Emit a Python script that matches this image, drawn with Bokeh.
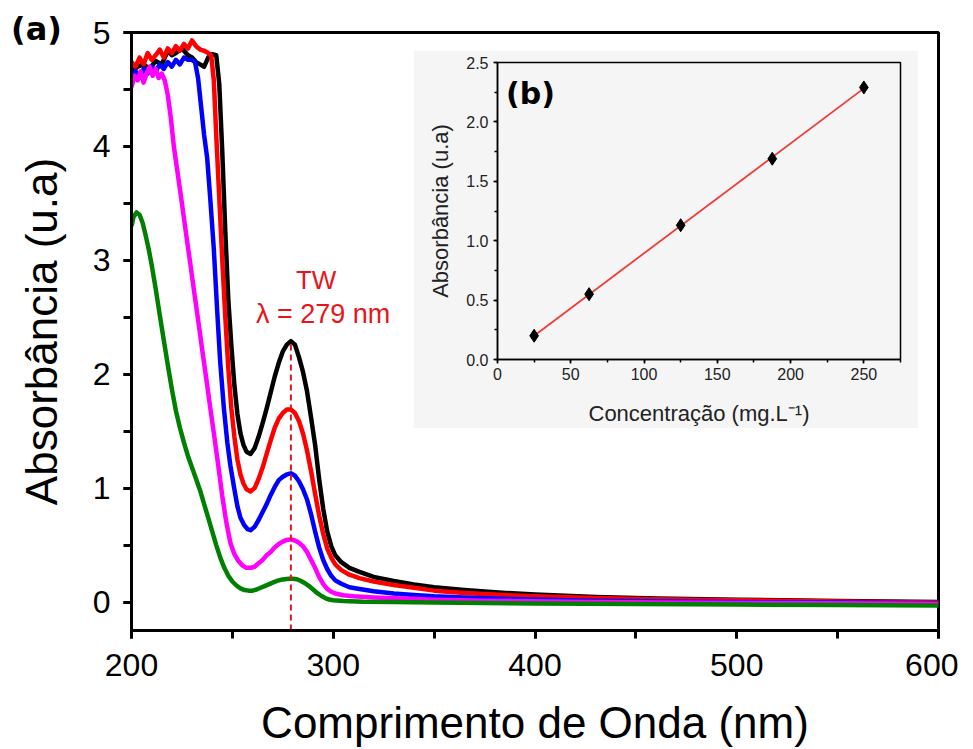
from bokeh.plotting import figure
from bokeh.models import GridBox, Label, SingleIntervalTicker, Range1d, Div, Spacer, PrintfTickFormatter
from bokeh.layouts import column, row
from bokeh.embed import file_html
from bokeh.resources import INLINE
import numpy as np

# ---------------- data ----------------
# UV-Vis spectra (wavelength nm, absorbance) for 5 concentrations
black_wl = [200, 203, 206, 209, 212, 215, 218, 220, 222, 225, 228, 230, 232, 234, 236, 238, 240, 242,
            243.5, 245, 246.5, 248, 249.5, 251, 252.5, 254, 255.5, 257, 259, 261, 263, 265, 267, 269,
            271, 273, 275, 277, 279, 281, 283, 285, 287, 289, 291, 293, 295, 297, 299, 301, 304, 308,
            313, 320, 330, 340, 350, 365, 380, 400, 430, 460, 500, 550, 600]
black_ab = [4.65, 4.70, 4.72, 4.68, 4.75, 4.72, 4.84, 4.80, 4.82, 4.86, 4.80, 4.78, 4.74, 4.72, 4.70,
            4.78, 4.81, 4.80, 4.55, 3.95, 3.25, 2.65, 2.25, 1.90, 1.65, 1.48, 1.38, 1.32, 1.30, 1.35,
            1.45, 1.57, 1.70, 1.84, 1.98, 2.10, 2.20, 2.26, 2.29, 2.26, 2.15, 2.02, 1.85, 1.62, 1.38,
            1.08, 0.82, 0.62, 0.49, 0.41, 0.35, 0.30, 0.265, 0.22, 0.185, 0.155, 0.13, 0.105, 0.085,
            0.065, 0.045, 0.03, 0.02, 0.01, 0.0]

red_wl = [200, 202, 204, 206, 208, 210, 212, 214, 216, 218, 220, 222, 224, 226, 228, 230, 232, 234, 236,
          238, 239.5, 240.8, 242, 243.5, 245, 246.5, 248, 249.5, 251, 252.5, 254, 255.5, 257, 259, 261,
          263, 265, 267, 269, 271, 273, 275, 277, 279, 281, 283, 285, 287, 289, 291, 293, 295, 297, 299,
          301, 304, 308, 313, 320, 330, 340, 350, 365, 380, 400, 430, 460, 500, 550, 600]
red_ab = [4.74, 4.70, 4.78, 4.72, 4.82, 4.76, 4.80, 4.85, 4.78, 4.86, 4.82, 4.88, 4.84, 4.90, 4.86, 4.93,
          4.88, 4.85, 4.84, 4.82, 4.80, 4.58, 4.10, 3.55, 3.00, 2.50, 2.05, 1.70, 1.45, 1.25, 1.12, 1.04,
          0.99, 0.97, 1.00, 1.08, 1.18, 1.30, 1.42, 1.53, 1.61, 1.66, 1.69, 1.69, 1.66, 1.59, 1.48, 1.33,
          1.15, 0.95, 0.76, 0.60, 0.47, 0.39, 0.33, 0.28, 0.24, 0.21, 0.18, 0.15, 0.125, 0.10, 0.08,
          0.065, 0.05, 0.035, 0.025, 0.015, 0.005, -0.005]

blue_wl = [200, 202, 204, 206, 208, 210, 212, 214, 216, 218, 220, 222, 224, 226, 228, 230, 231.5, 233,
           234.5, 236, 237.5, 239, 240.8, 242.5, 244, 245.8, 247.5, 249, 250.7, 252.5, 254, 255.7, 257.5,
           259, 261, 263, 265, 267, 269, 271, 273, 275, 277, 279, 281, 283, 285, 287, 289, 291, 293, 295,
           297, 299, 301, 304, 308, 313, 320, 330, 340, 350, 365, 380, 400, 430, 460, 500, 550, 600]
blue_ab = [4.62, 4.66, 4.60, 4.68, 4.64, 4.70, 4.66, 4.72, 4.68, 4.74, 4.70, 4.76, 4.72, 4.78, 4.76, 4.76,
           4.74, 4.60, 4.35, 4.10, 3.90, 3.55, 3.10, 2.55, 2.10, 1.70, 1.40, 1.20, 1.02, 0.84, 0.74, 0.68,
           0.64, 0.63, 0.66, 0.72, 0.79, 0.86, 0.94, 1.01, 1.07, 1.10, 1.12, 1.13, 1.11, 1.06, 0.99, 0.90,
           0.77, 0.62, 0.48, 0.37, 0.29, 0.23, 0.19, 0.16, 0.13, 0.115, 0.095, 0.075, 0.062, 0.05, 0.04,
           0.03, 0.022, 0.012, 0.006, 0.0, -0.005, -0.01]

magenta_wl = [200, 201.5, 203, 204.5, 206, 207.5, 209, 210.5, 212, 213.5, 215, 216.5, 218, 219.5, 221,
              223, 225, 227, 229, 231, 233, 235, 237, 239, 241, 243, 245, 247, 249, 251, 253, 255, 257,
              259, 261, 263, 265, 267, 269, 271, 273, 275, 277, 279, 281, 283, 285, 287, 289, 291, 293,
              295, 297, 299, 301, 305, 310, 320, 335, 350, 380, 430, 500, 600]
magenta_ab = [4.52, 4.62, 4.58, 4.66, 4.56, 4.64, 4.70, 4.62, 4.68, 4.60, 4.64, 4.58, 4.45, 4.25, 4.00,
              3.75, 3.50, 3.24, 2.99, 2.73, 2.48, 2.22, 1.97, 1.71, 1.46, 1.20, 0.93, 0.70, 0.52, 0.42,
              0.36, 0.32, 0.30, 0.30, 0.31, 0.34, 0.37, 0.41, 0.44, 0.48, 0.51, 0.53, 0.545, 0.55, 0.54,
              0.52, 0.49, 0.44, 0.37, 0.30, 0.22, 0.16, 0.115, 0.09, 0.075, 0.06, 0.05, 0.04, 0.03, 0.02,
              0.01, 0.0, -0.008, -0.015]

green_wl = [200, 201, 202.5, 204, 205.5, 207, 208.5, 210, 212, 214, 216, 218, 220, 222, 224, 226, 228, 230,
            232, 234, 236, 238, 240, 242, 244, 246, 248, 250, 252, 254, 256, 258, 260, 262, 264, 266,
            268, 270, 272, 274, 276, 278, 280, 282, 284, 286, 288, 290, 292, 294, 296, 298, 300, 305,
            315, 330, 350, 400, 450, 500, 550, 600]
green_ab = [3.30, 3.38, 3.42, 3.40, 3.33, 3.22, 3.10, 2.96, 2.75, 2.52, 2.30, 2.08, 1.87, 1.68, 1.53, 1.40,
            1.28, 1.18, 1.08, 0.98, 0.86, 0.74, 0.62, 0.50, 0.39, 0.30, 0.23, 0.18, 0.145, 0.12, 0.105,
            0.10, 0.10, 0.11, 0.125, 0.14, 0.155, 0.17, 0.185, 0.195, 0.20, 0.205, 0.205, 0.20, 0.185,
            0.165, 0.14, 0.11, 0.08, 0.055, 0.035, 0.022, 0.015, 0.008, 0.002, 0.0, -0.005, -0.012,
            -0.018, -0.022, -0.027, -0.03]

peak_wl = 279

# calibration (inset)
conc = [25, 62.5, 125, 187.5, 250]
absorb = [0.20, 0.55, 1.13, 1.69, 2.29]

# ---------------- main figure ----------------
FONT = "Liberation Sans"
p = figure(width=958, height=749, output_backend="svg", toolbar_location=None,
           x_range=Range1d(200, 600), y_range=Range1d(-0.25, 5.0),
           min_border_left=131, min_border_right=20, min_border_top=32, min_border_bottom=119)
p.grid.visible = False
p.outline_line_color = "black"
p.outline_line_width = 3
p.background_fill_color = "white"
p.border_fill_color = "white"

p.xaxis.ticker = SingleIntervalTicker(interval=100, num_minor_ticks=2)
p.yaxis.ticker = SingleIntervalTicker(interval=1, num_minor_ticks=2)
for ax in (p.xaxis[0], p.yaxis[0]):
    ax.axis_line_width = 3
    ax.major_tick_line_width = 3
    ax.minor_tick_line_width = 3
    ax.major_tick_in = 0
    ax.major_tick_out = 8
    ax.minor_tick_in = 0
    ax.minor_tick_out = 8
    ax.major_label_text_font = FONT
    ax.major_label_text_font_size = "32px"
    ax.major_label_text_color = "black"
    ax.axis_label_text_font = FONT
    ax.axis_label_text_font_size = "44px"
    ax.axis_label_text_font_style = "normal"
    ax.axis_label_text_color = "black"
p.xaxis.axis_label = "Comprimento de Onda (nm)"
p.yaxis.axis_label = "Absorbância (u.a)"
p.xaxis.major_label_standoff = 15
p.yaxis.major_label_standoff = 13
p.xaxis.axis_label_standoff = 19
p.yaxis.axis_label_standoff = 24

series = [(black_wl, black_ab, "black"), (red_wl, red_ab, "#ff0000"), (blue_wl, blue_ab, "#0000ff"),
          (magenta_wl, magenta_ab, "#ff00ff"), (green_wl, green_ab, "#008000")]
for wl, ab, col in series:
    p.line(wl, ab, line_color=col, line_width=4.5, line_join="round")

p.segment(x0=[peak_wl], y0=[p.y_range.start], x1=[peak_wl], y1=[max(absorb)],
          line_color="#e0161d", line_width=2, line_dash="6 4")

p.add_layout(Label(x=291.5, y=2.83, text="TW", text_font=FONT, text_font_size="26px",
                   text_color="#e8141b", text_align="center", text_baseline="middle"))
p.add_layout(Label(x=295, y=2.53, text="λ = 279 nm", text_font=FONT, text_font_size="27px",
                   text_color="#e8141b", text_align="center", text_baseline="middle"))

# panel tag (a)
tag_a = Div(text="(a)", styles={"font-family": "DejaVu Sans", "font-weight": "bold",
                                "font-size": "32px", "color": "black", "line-height": "1"})

# ---------------- inset ----------------
q = figure(width=505, height=378, output_backend="svg", toolbar_location=None,
           x_range=Range1d(0, 275), y_range=Range1d(0, 2.5),
           min_border_left=84, min_border_right=18, min_border_top=12, min_border_bottom=66)
q.grid.visible = False
q.background_fill_color = "#f5f5f5"
q.border_fill_color = "#f5f5f5"
q.outline_line_color = "black"
q.outline_line_width = 1.5
q.xaxis.ticker = SingleIntervalTicker(interval=50, num_minor_ticks=2)
q.yaxis.ticker = SingleIntervalTicker(interval=0.5, num_minor_ticks=2)
q.yaxis.formatter = PrintfTickFormatter(format="%.1f")
for ax in (q.xaxis[0], q.yaxis[0]):
    ax.axis_line_width = 1.5
    ax.major_tick_line_width = 1.5
    ax.minor_tick_line_width = 1.5
    ax.major_tick_in = 0
    ax.major_tick_out = 4
    ax.minor_tick_in = 0
    ax.minor_tick_out = 3
    ax.major_label_text_font = FONT
    ax.major_label_text_font_size = "16px"
    ax.major_label_text_color = "#222222"
    ax.axis_label_text_font = FONT
    ax.axis_label_text_font_size = "22px"
    ax.axis_label_text_font_style = "normal"
    ax.axis_label_text_color = "#222222"
q.xaxis.axis_label = "Concentração (mg.L⁻¹)"
q.yaxis.axis_label = "Absorbância (u.a)"
q.xaxis.major_label_standoff = 4
q.yaxis.major_label_standoff = 5
q.xaxis.axis_label_standoff = 18
q.yaxis.axis_label_standoff = 10

slope, intercept = np.polyfit(conc, absorb, 1)
fit_x = [min(conc), max(conc)]
fit_y = [slope * v + intercept for v in fit_x]
q.line(fit_x, fit_y, line_color="#ee3b3b", line_width=1.8)
q.scatter(conc, absorb, marker="diamond", size=13, fill_color="black", line_color="black")
q.add_layout(Label(x=22.5, y=2.24, text="(b)", text_font="DejaVu Sans", text_font_size="30px",
                   text_font_style="bold", text_color="black", text_align="center",
                   text_baseline="middle"))

inset_box = column(Spacer(height=50), row(Spacer(width=413), q))
tag_box = column(Spacer(height=8), row(Spacer(width=6), tag_a))

grid = GridBox(children=[(p, 0, 0), (tag_box, 0, 0), (inset_box, 0, 0)])
open("out.html", "w").write(file_html(grid, INLINE))
